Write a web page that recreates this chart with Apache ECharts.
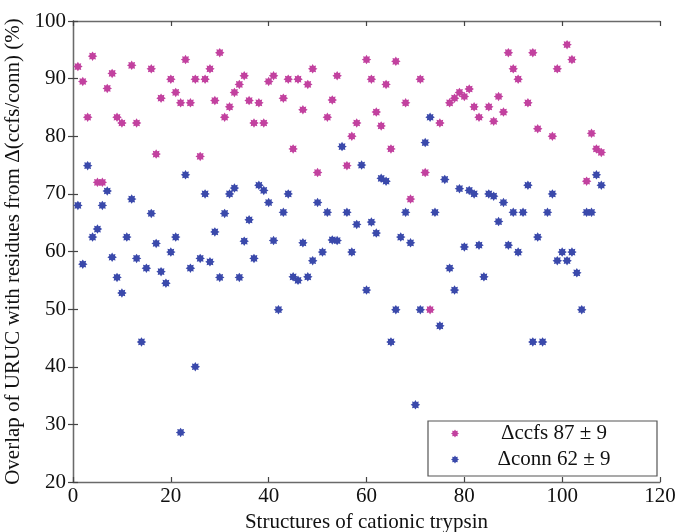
<!DOCTYPE html>
<html>
<head>
<meta charset="utf-8">
<script src="https://cdn.jsdelivr.net/npm/echarts@6/dist/echarts.min.js"></script>
<style>
  html, body { margin: 0; padding: 0; background: #fff; }
  #chart { width: 680px; height: 532px; }
</style>
</head>
<body>
<div id="chart"></div>
<script>
// Overlap (%) per structure index 1..108; null = no value for that structure
const ccfs = [
  92.1, 89.5, 83.3, 93.9, 72.0, 72.0, 88.3, 90.9, 83.3, 82.3,
  null, 92.3, 82.3, null, null, 91.7, 76.9, 86.6, null, 89.9,
  87.6, 85.8, 93.3, 85.8, 89.9, 76.5, 89.9, 91.7, 86.2, 94.5,
  83.3, 85.1, 87.6, 89.0, 90.5, 86.2, 82.3, 85.8, 82.3, 89.5,
  90.5, null, 86.6, 89.9, 77.8, 89.9, 84.6, 89.0, 91.7, 73.7,
  null, 83.3, 86.3, 90.5, null, 74.9, 80.0, 82.3, null, 93.3,
  89.9, 84.2, 81.8, 89.0, 77.8, 93.0, null, 85.8, 69.1, null,
  89.9, 73.7, 49.9, null, 82.3, null, 85.8, 86.6, 87.6, 86.9,
  88.2, 85.1, 83.3, null, 85.1, 82.6, 86.9, 84.2, 94.5, 91.7,
  89.9, null, 85.8, 94.5, 81.3, null, null, 80.0, 91.7, null,
  95.9, 93.3, null, null, 72.2, 80.5, 77.8, 77.2
];
const conn = [
  68.0, 57.8, 74.9, 62.5, 63.9, 68.0, 70.5, 59.0, 55.5, 52.8,
  62.5, 69.1, 58.8, 44.3, 57.1, 66.6, 61.4, 56.5, 54.5, 59.9,
  62.5, 28.6, 73.3, 57.1, 40.0, 58.8, 70.0, 58.2, 63.4, 55.5,
  66.6, 70.0, 71.0, 55.5, 61.8, 65.5, 58.8, 71.5, 70.6, 68.5,
  61.9, 49.9, 66.8, 70.0, 55.6, 55.0, 61.5, 55.6, 58.4, 68.5,
  59.9, 66.8, 62.0, 61.9, 78.2, 66.8, 59.9, 64.7, 75.0, 53.3,
  65.1, 63.2, 72.7, 72.2, 44.3, 49.9, 62.5, 66.8, 61.5, 33.4,
  49.9, 78.9, 83.3, 66.8, 47.1, 72.5, 57.1, 53.3, 70.9, 60.8,
  70.6, 70.0, 61.1, 55.6, 70.0, 69.6, 65.2, 68.5, 61.1, 66.8,
  59.9, 66.8, 71.5, 44.3, 62.5, 44.3, 66.8, 70.0, 58.4, 59.9,
  58.4, 59.9, 56.3, 49.9, 66.8, 66.8, 73.3, 71.5
];
const seriesNames = ['\u0394ccfs 87 \u00b1 9', '\u0394conn 62 \u00b1 9'];
const xTitle = 'Structures of cationic trypsin';
const yTitle = 'Overlap of URUC with residues from \u0394(ccfs/conn) (%)';

const FONT = '"Liberation Serif", "Times New Roman", serif';
const PINK = '#c2419f';
const BLUE = '#3a49ab';
// eight-spoked star used as the plot marker
const STAR = 'path://M10 0 L12.49 3.99 L17.07 2.93 L16.01 7.51 L20 10 L16.01 12.49 L17.07 17.07 L12.49 16.01 L10 20 L7.51 16.01 L2.93 17.07 L3.99 12.49 L0 10 L3.99 7.51 L2.93 2.93 L7.51 3.99 Z';

function toPoints(arr) {
  const out = [];
  arr.forEach((v, i) => { if (v !== null) out.push([i + 1, v]); });
  return out;
}

const axisLine = { show: true, lineStyle: { color: '#6a6a6a', width: 1.3 } };
const axisTick = { show: true, inside: true, length: 5, lineStyle: { color: '#444', width: 1.2 } };
const labelStyle = { color: '#111', fontFamily: FONT, fontSize: 21 };

const chart = echarts.init(document.getElementById('chart'), null, { renderer: 'canvas' });
chart.setOption({
  backgroundColor: '#fff',
  animation: false,
  grid: { left: 73, right: 20, top: 21, bottom: 50, outerBoundsMode: 'none' },
  xAxis: [
    {
      type: 'value', min: 0, max: 120, interval: 20, position: 'bottom',
      name: xTitle, nameLocation: 'middle', nameGap: 26,
      nameTextStyle: { color: '#111', fontFamily: FONT, fontSize: 21 },
      axisLine, axisTick,
      axisLabel: Object.assign({ margin: 4 }, labelStyle),
      splitLine: { show: false }
    },
    {
      type: 'value', min: 0, max: 120, interval: 20, position: 'top',
      axisLine, axisTick, axisLabel: { show: false }, splitLine: { show: false }
    }
  ],
  yAxis: [
    {
      type: 'value', min: 20, max: 100, interval: 10, position: 'left',
      name: yTitle, nameLocation: 'middle', nameGap: 39,
      nameTextStyle: { color: '#111', fontFamily: FONT, fontSize: 21 },
      axisLine, axisTick,
      axisLabel: Object.assign({ margin: 7 }, labelStyle),
      splitLine: { show: false }
    },
    {
      type: 'value', min: 20, max: 100, interval: 10, position: 'right',
      axisLine, axisTick, axisLabel: { show: false }, splitLine: { show: false }
    }
  ],
  legend: {
    left: 428, top: 421, orient: 'vertical',
    backgroundColor: '#fff',
    borderColor: '#555', borderWidth: 1.2,
    padding: [2, 13, 6, 23],
    itemGap: 5, itemWidth: 8, itemHeight: 8,
    data: seriesNames.map(n => ({ name: n, icon: STAR })),
    formatter: n => '{t|' + n + '}',
    textStyle: {
      color: '#111', fontFamily: FONT, fontSize: 21,
      rich: { t: { width: 180, align: 'center', fontFamily: FONT, fontSize: 21, lineHeight: 22, color: '#111' } }
    }
  },
  series: [
    {
      name: seriesNames[0], type: 'scatter', symbol: STAR, symbolSize: 9.5,
      itemStyle: { color: PINK, opacity: 1 },
      data: toPoints(ccfs)
    },
    {
      name: seriesNames[1], type: 'scatter', symbol: STAR, symbolSize: 9.5,
      itemStyle: { color: BLUE, opacity: 1 },
      data: toPoints(conn)
    }
  ]
});
</script>
</body>
</html>
